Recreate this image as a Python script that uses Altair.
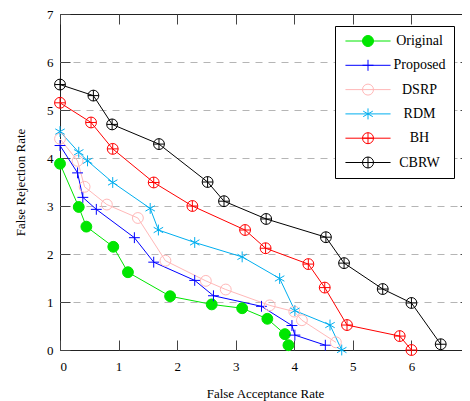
import altair as alt
import pandas as pd

series_names = ["Original", "Proposed", "DSRP", "RDM", "BH", "CBRW"]
colors = ["#00e600", "#0000ff", "#ffb8b8", "#00aeef", "#ff0000", "#000000"]
fills = ["#00e600", "transparent", "transparent", "transparent", "transparent", "transparent"]

original_x = [0, 0.32, 0.45, 0.91, 1.16, 1.88, 2.59, 3.11, 3.54, 3.84, 3.9]
original_y = [3.88, 2.98, 2.57, 2.15, 1.62, 1.12, 0.95, 0.87, 0.65, 0.33, 0.1]

proposed_x = [0, 0.3, 0.39, 0.62, 1.27, 1.6, 2.3, 2.62, 3.44, 3.96, 4.01, 4.53]
proposed_y = [4.26, 3.69, 3.18, 2.93, 2.34, 1.83, 1.45, 1.13, 0.91, 0.51, 0.31, 0.1]

dsrp_x = [0, 0.3, 0.42, 0.8, 1.33, 1.8, 2.49, 2.83, 3.58, 4.0, 4.13, 4.71]
dsrp_y = [4.4, 3.94, 3.4, 3.03, 2.75, 1.86, 1.44, 1.26, 0.93, 0.8, 0.62, 0.16]

rdm_x = [0, 0.32, 0.47, 0.9, 1.54, 1.68, 2.3, 3.11, 3.75, 4.01, 4.61, 4.81]
rdm_y = [4.55, 4.12, 3.94, 3.49, 2.95, 2.5, 2.24, 1.94, 1.49, 0.82, 0.52, 0.0]

bh_x = [0, 0.53, 0.9, 1.6, 2.26, 3.16, 3.51, 4.24, 4.52, 4.9, 5.8, 6.0]
bh_y = [5.15, 4.74, 4.19, 3.49, 3.0, 2.5, 2.12, 1.79, 1.3, 0.52, 0.29, 0.0]

cbrw_x = [0, 0.57, 0.89, 1.69, 2.52, 2.8, 3.52, 4.54, 4.85, 5.51, 6.0, 6.5]
cbrw_y = [5.53, 5.3, 4.7, 4.29, 3.5, 3.1, 2.73, 2.35, 1.81, 1.27, 0.98, 0.12]

axis_ticks = [0, 1, 2, 3, 4, 5, 6, 7]
grid_ticks = [1, 2, 3, 4, 5, 6]

# marker shapes (unit coordinates)
CIRCLE = "M1,0A1,1,0,1,1,-1,0A1,1,0,1,1,1,0Z"
PLUS = "M-1,0H1M0,-1V1"
STAR = "M0,-1V1M-0.87,-0.5L0.87,0.5M-0.87,0.5L0.87,-0.5"
OPLUS = CIRCLE + PLUS
marker_paths = [CIRCLE, PLUS, CIRCLE, STAR, OPLUS, OPLUS]
LINE = "M-4.1,0H4.1"
legend_paths = [LINE + p for p in marker_paths]

all_x = [original_x, proposed_x, dsrp_x, rdm_x, bh_x, cbrw_x]
all_y = [original_y, proposed_y, dsrp_y, rdm_y, bh_y, cbrw_y]
rows = []
for name, xs, ys in zip(series_names, all_x, all_y):
    for i, (xv, yv) in enumerate(zip(xs, ys)):
        rows.append({"series": name, "x": xv, "y": yv, "idx": i})
df = pd.DataFrame(rows)

FONT = "Liberation Serif, Times New Roman, Times, DejaVu Serif, serif"
xscale = alt.Scale(domain=[0, 7], nice=False, zero=False)
yscale = alt.Scale(domain=[0, 7], nice=False, zero=False)
TICK_COLOR = "#444444"

base = alt.Chart(df)

lines = base.mark_line(strokeWidth=1, clip=False).encode(
    x=alt.X("x:Q", scale=xscale, axis=alt.Axis(
        orient="bottom", title="False Acceptance Rate", values=axis_ticks,
        offset=-10, tickSize=10, domain=False, grid=False, labelPadding=10,
        titlePadding=14, format="d", tickColor=TICK_COLOR)),
    y=alt.Y("y:Q", scale=yscale, axis=alt.Axis(
        orient="left", title="False Rejection Rate", values=axis_ticks,
        offset=-10, tickSize=10, domain=False, grid=False, labelPadding=7,
        titlePadding=19, format="d", tickColor=TICK_COLOR)),
    color=alt.Color("series:N", scale=alt.Scale(domain=series_names, range=colors), legend=None),
    order="idx:Q",
)

points = base.mark_point(size=118, strokeWidth=1, opacity=1, clip=False).encode(
    x=alt.X("x:Q", scale=xscale, axis=alt.Axis(
        orient="top", title=None, values=axis_ticks, offset=-10, tickSize=10,
        domain=False, labels=False, grid=False, tickColor=TICK_COLOR)),
    y=alt.Y("y:Q", scale=yscale, axis=alt.Axis(
        orient="right", title=None, values=grid_ticks, offset=-10, tickSize=10,
        domain=False, labels=False, grid=True, gridDash=[7, 6],
        gridColor="#b5b5b5", gridWidth=1, tickColor=TICK_COLOR)),
    shape=alt.Shape("series:N", scale=alt.Scale(domain=series_names, range=marker_paths), legend=None),
    stroke=alt.Stroke("series:N", scale=alt.Scale(domain=series_names, range=colors), legend=None),
    fill=alt.Fill("series:N", scale=alt.Scale(domain=series_names, range=fills), legend=None),
)

leg_props = dict(
    title=None, orient="none", legendX=275, legendY=12, padding=8,
    strokeColor="black", fillColor="white", rowPadding=8.3,
    symbolOffset=18, labelOffset=44.5, labelAlign="center",
    labelFont=FONT, labelFontSize=14, labelColor="black",
    symbolSize=121, symbolStrokeWidth=1, cornerRadius=0,
)

legend_layer = base.transform_filter("false").transform_calculate(
    leg="datum.series"
).mark_point(opacity=1).encode(
    x=alt.X("x:Q", scale=xscale, axis=None),
    y=alt.Y("y:Q", scale=yscale, axis=None),
    shape=alt.Shape("leg:N", scale=alt.Scale(domain=series_names, range=legend_paths),
                    legend=alt.Legend(**leg_props)),
    stroke=alt.Stroke("leg:N", scale=alt.Scale(domain=series_names, range=colors),
                      legend=alt.Legend(**leg_props)),
    fill=alt.Fill("leg:N", scale=alt.Scale(domain=series_names, range=fills),
                  legend=alt.Legend(**leg_props)),
)

chart = alt.layer(lines, points, legend_layer).resolve_axis(
    x="independent", y="independent"
).resolve_scale(
    shape="independent", stroke="independent", fill="independent"
).properties(
    width=410, height=336,
    autosize=alt.AutoSizeParams(type="none"),
    padding={"left": 52, "top": 6, "right": -8, "bottom": 51},
).configure_view(
    stroke="#222222", strokeWidth=1
).configure_axis(
    labelFont=FONT, titleFont=FONT, labelFontSize=13, titleFontSize=13,
    titleFontWeight="normal", labelColor="black", titleColor="black",
).configure_legend(
    labelFont=FONT
)

chart.save("out.html", embed_options={"renderer": "svg", "actions": False})
